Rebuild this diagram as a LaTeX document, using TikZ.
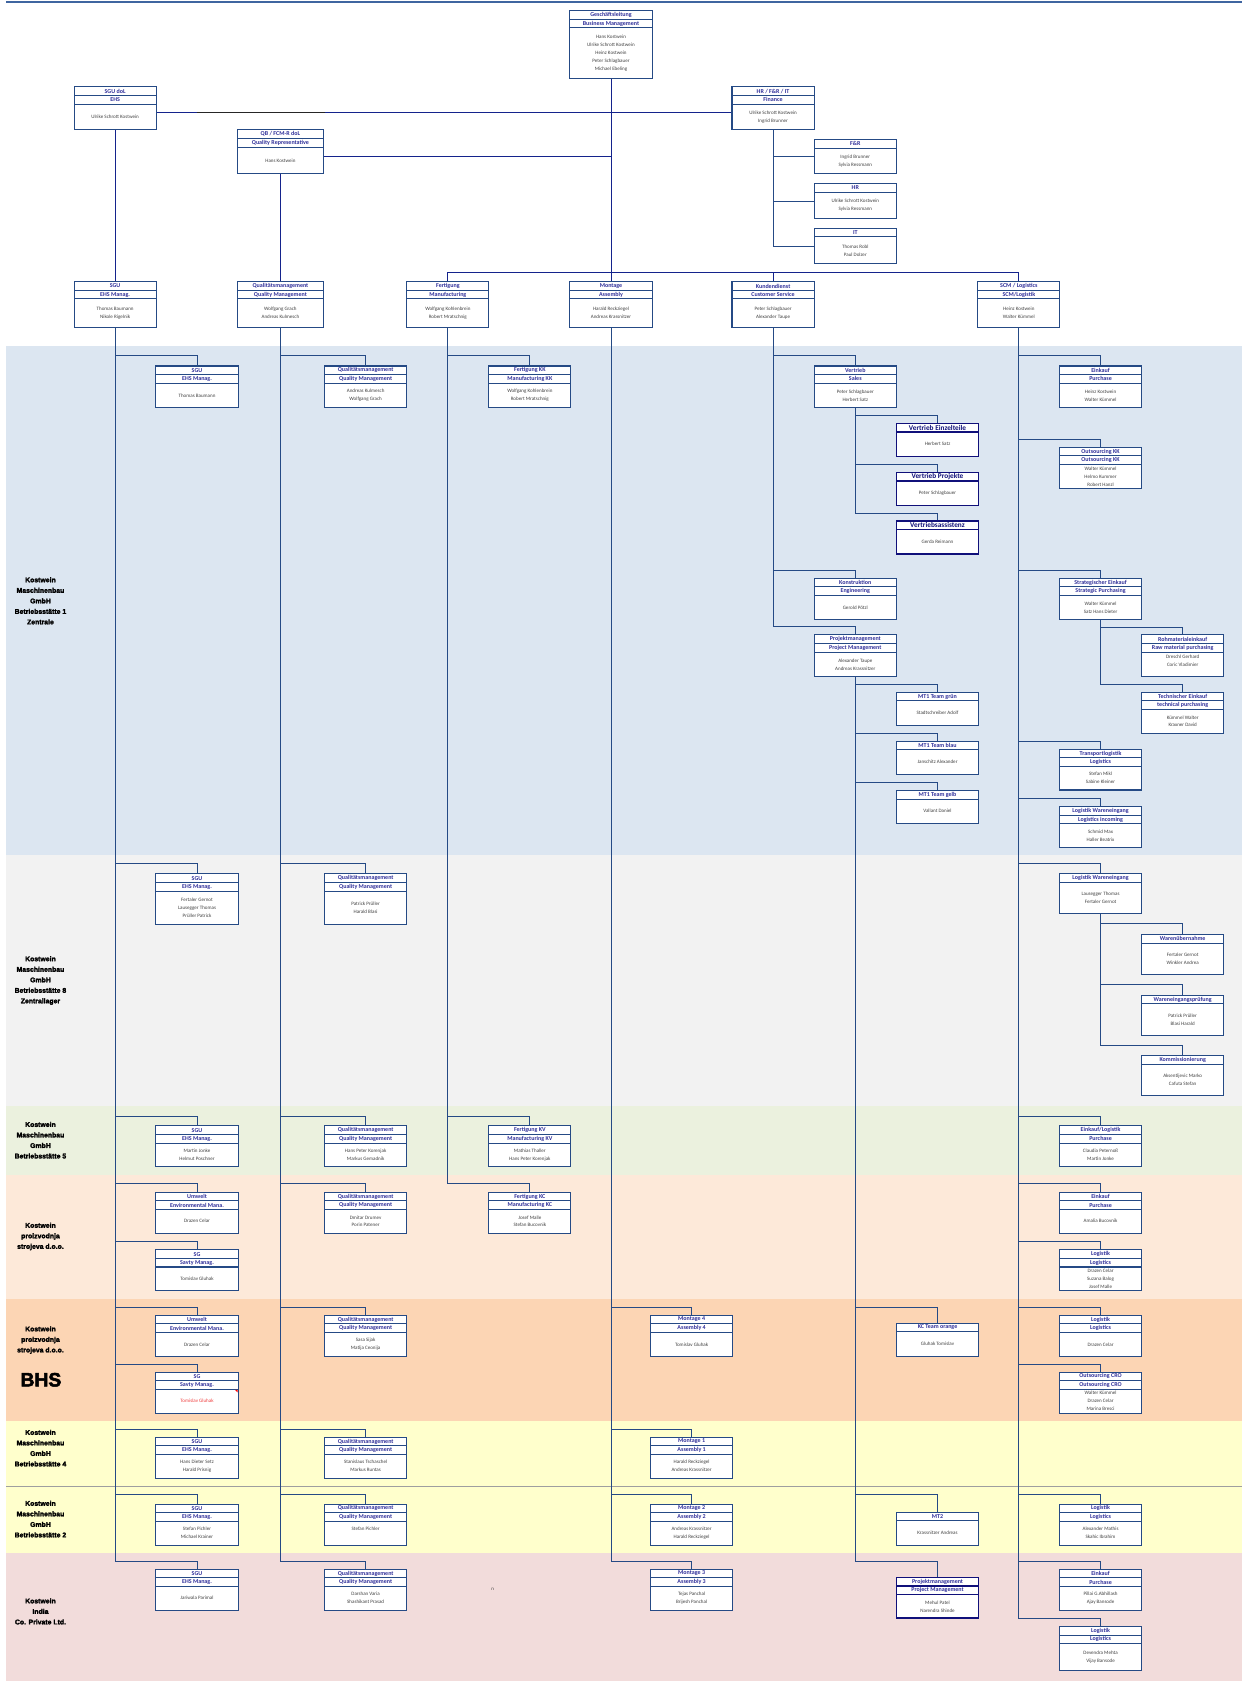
\documentclass[tikz,border=0pt]{standalone}
\usepackage{fontspec}
\setmainfont{Carlito}
\newfontfamily\lblfont{Liberation Sans Bold}[FakeBold=2.6]
\usetikzlibrary{calc}
\pgfdeclarelayer{bands}\pgfdeclarelayer{bg}
\pgfsetlayers{bands,bg,main}
\definecolor{bandblue}{HTML}{DCE6F1}
\definecolor{bandgrey}{HTML}{F2F2F2}
\definecolor{bandgreen}{HTML}{EBF1DE}
\definecolor{bandlorange}{HTML}{FDE9D9}
\definecolor{bandorange}{HTML}{FCD5B4}
\definecolor{bandyellow}{HTML}{FFFFCC}
\definecolor{bandpink}{HTML}{F2DCDB}
\definecolor{boxcol}{HTML}{254A85}
\definecolor{hdrcol}{HTML}{30309A}
\definecolor{namecol}{HTML}{404040}
\definecolor{navy}{HTML}{10107A}
\definecolor{topconn}{HTML}{14238C}
\definecolor{conncol}{HTML}{254A85}
\definecolor{toplinecol}{HTML}{3F65A0}
\definecolor{redname}{HTML}{F03C3C}
\tikzset{
 obox/.style={draw=boxcol, line width=1pt, fill=white, minimum width=76.5pt, inner sep=0pt, outer sep=0pt},
 wide/.style={minimum width=79.5pt},
 navybox/.style={draw=navy, line width=1.3pt},
 obline/.style={draw=boxcol, line width=1pt},
 hdr/.style={font=\fontsize{5.6}{6}\selectfont\bfseries, text=hdrcol, inner sep=0pt},
 hdrn/.style={font=\fontsize{6.8}{7}\selectfont\bfseries, text=navy, inner sep=0pt},
 nms/.style={font=\fontsize{4.7}{7.4}\selectfont, text=namecol, align=center, inner sep=0pt},
 conn/.style={draw=conncol, line width=0.8pt},
 tconn/.style={draw=topconn, line width=0.9pt},
 lbl/.style={font=\lblfont\fontsize{6.4}{9.8}\selectfont, align=center, inner sep=0pt},
}
% two-header box: style, name, x, y, height, header1, header2, names
\newcommand{\bxx}[8]{%
 \node[obox,#1,minimum height=#5pt,anchor=north west] (#2) at (#3,#4) {};
 \draw[obline,#1] ([yshift=-8pt]#2.north west) -- ([yshift=-8pt]#2.north east);
 \draw[obline,#1] ([yshift=-16pt]#2.north west) -- ([yshift=-16pt]#2.north east);
 \node[hdr] at ([yshift=-4pt]#2.north) {#6};
 \node[hdr] at ([yshift=-12pt]#2.north) {#7};
 \node[nms] at ($(#2.south)!0.5!([yshift=-16pt]#2.north)$) {#8};
}
% one-header box: style, name, x, y, height, header style, header, names
\newcommand{\bxa}[8]{%
 \node[obox,#1,minimum height=#5pt,anchor=north west] (#2) at (#3,#4) {};
 \draw[obline,#1] ([yshift=-8pt]#2.north west) -- ([yshift=-8pt]#2.north east);
 \node[#6] at ([yshift=-4pt]#2.north) {#7};
 \node[nms] at ($(#2.south)!0.5!([yshift=-8pt]#2.north)$) {#8};
}
\newcommand{\conn}[4][conn]{\draw[#1] (#2.north) -- ++(0,-#4) -| (#3.south);}
\begin{document}
\begin{tikzpicture}[x=1pt,y=-1pt]
\useasboundingbox (0,0) rectangle (1157,1568);
\begin{pgfonlayer}{bands}
\fill[bandblue] (6,322) rectangle (1157,796.5);
\fill[bandgrey] (6,796.5) rectangle (1157,1030.5);
\fill[bandgreen] (6,1030.5) rectangle (1157,1094.5);
\fill[bandlorange] (6,1094.5) rectangle (1157,1210);
\fill[bandorange] (6,1210) rectangle (1157,1323.7);
\fill[bandyellow] (6,1323.7) rectangle (1157,1446.4);
\fill[bandpink] (6,1446.4) rectangle (1157,1566.5);
\draw[gray!75, line width=0.8pt] (6,1384.9) -- (1157,1384.9);
\draw[toplinecol, line width=1.6pt] (6,2) -- (1157,2);
\end{pgfonlayer}

% ---------- top level ----------
\bxx{}{gl}{531}{10}{63}{Geschäftsleitung}{Business Management}{Hans Kostwein\\Ulrike Schrott Kostwein\\Heinz Kostwein\\Peter Schlagbauer\\Michael Ebeling}
\bxx{}{sgudol}{69}{81}{40}{SGU doL}{EHS}{Ulrike Schrott Kostwein}
\bxx{wide}{qb}{221.5}{121}{41}{QB / FCM-R doL}{Quality Representative}{Hans Kostwein}
\bxx{}{hrfin}{682}{81}{40}{HR / F\&R / IT}{Finance}{Ulrike Schrott Kostwein\\Ingrid Brunner}
\bxa{}{fr}{758.6}{130}{32}{hdr}{F\&R}{Ingrid Brunner\\Sylvia Ressmann}
\bxa{}{hr}{758.6}{171}{33}{hdr}{HR}{Ulrike Schrott Kostwein\\Sylvia Ressmann}
\bxa{}{it}{758.6}{212.7}{33}{hdr}{IT}{Thomas Robl\\Paul Dolzer}

% ---------- level 2 ----------
\bxx{}{sgu}{69}{262.5}{42.5}{SGU}{EHS Manag.}{Thomas Baumann\\Nikole Rigelnik}
\bxx{wide}{qm}{221.5}{262.5}{42.5}{Qualitätsmanagement}{Quality Management}{Wolfgang Grach\\Andreas Kulmesch}
\bxx{}{fert}{379}{262.5}{42.5}{Fertigung}{Manufacturing}{Wolfgang Kohlenbrein\\Robert Mratschnig}
\bxx{}{mont}{531}{262.5}{42.5}{Montage}{Assembly}{Harald Reckziegel\\Andreas Krassnitzer}
\bxx{}{kd}{682}{262.5}{42.5}{Kundendienst}{Customer Service}{Peter Schlagbauer\\Alexander Taupe}
\bxx{}{scm}{911}{262.5}{42.5}{SCM / Logistics}{SCM/Logistik}{Heinz Kostwein\\Walter Kümmel}

% ---------- Zentrale ----------
\bxx{}{z_sgu}{145.3}{341}{39}{SGU}{EHS Manag.}{Thomas Baumann}
\bxx{}{z_qm}{302.4}{341}{39}{Qualitätsmanagement}{Quality Management}{Andreas Kulmesch\\Wolfgang Grach}
\bxx{}{z_fkk}{455.4}{341}{39}{Fertigung KK}{Manufacturing KK}{Wolfgang Kohlenbrein\\Robert Mratschnig}
\bxx{}{z_sales}{758.6}{341}{39}{Vertrieb}{Sales}{Peter Schlagbauer\\Herbert Satz}
\bxx{}{z_ein}{987.1}{341}{39}{Einkauf}{Purchase}{Heinz Kostwein\\Walter Kümmel}
\bxa{navybox}{z_ve}{835.2}{394.4}{31}{hdrn}{Vertrieb Einzelteile}{Herbert Satz}
\bxa{navybox}{z_vp}{835.2}{440}{31}{hdrn}{Vertrieb Projekte}{Peter Schlagbauer}
\bxa{navybox}{z_va}{835.2}{485.3}{31}{hdrn}{Vertriebsassistenz}{Gerda Reimann}
\bxx{}{z_okk}{987.1}{416.7}{38.6}{Outsourcing  KK}{Outsourcing  KK}{Walter Kümmel\\Helmo Kummer\\Robert Hanzl}
\bxx{}{z_kon}{758.6}{538.8}{38.2}{Konstruktion}{Engineering}{Gerold Pötzl}
\bxx{}{z_se}{987.1}{538.8}{38.2}{Strategischer Einkauf}{Strategic Purchasing}{Walter Kümmel\\Satz Hans Dieter}
\bxx{}{z_pm}{758.6}{591.5}{39}{Projektmanagement}{Project Management}{Alexander Taupe\\Andreas Krassnitzer}
\bxx{}{z_rm}{1063.6}{591.5}{39}{Rohmaterialeinkauf}{Raw material purchasing}{Dreschl Gerhard\\Coric Vladimier\\\mbox{}}
\bxa{}{z_mtg}{835.2}{645}{31}{hdr}{MT1 Team grün}{Stadtschreiber Adolf}
\bxx{}{z_te}{1063.6}{645}{38}{Technischer Einkauf}{technical purchasing}{Kümmel Walter\\Kraxner David}
\bxa{}{z_mtb}{835.2}{690.6}{30.7}{hdr}{MT1 Team blau}{Janschitz Alexander}
\bxx{}{z_tl}{987.1}{698}{38}{Transportlogistik}{Logistics}{Stefan Mikl\\Sabine Kleiner}
\bxa{}{z_mty}{835.2}{736.5}{30.5}{hdr}{MT1 Team gelb}{Vallant Daniel}
\bxx{}{z_lw}{987.1}{751.4}{38}{Logistik Wareneingang}{Logistics incoming}{Schmid Max\\Haller Beatrix}

% ---------- Zentrallager ----------
\bxx{}{g_sgu}{145.3}{814.2}{47}{SGU}{EHS Manag.}{Fertaler Gernot\\Lausegger Thomas\\Prüller Patrick}
\bxx{}{g_qm}{302.4}{814.2}{47}{Qualitätsmanagement}{Quality Management}{Patrick Prüller\\Harald Blasi}
\bxa{}{g_lw}{987.1}{814.2}{37.2}{hdr}{Logistik Wareneingang}{Lausegger Thomas\\Fertaler Gernot}
\bxa{}{g_wu}{1063.6}{870.7}{37.5}{hdr}{Warenübernahme}{Fertaler Gernot\\Winkler Andrea}
\bxa{}{g_wp}{1063.6}{927.2}{37.2}{hdr}{Wareneingangsprüfung}{Patrick Prüller\\Blasi Harald}
\bxa{}{g_ko}{1063.6}{983.4}{37.6}{hdr}{Kommissionierung}{Aksentijevic Marko\\Cafuta Stefan}

% ---------- Betriebsstaette 5 ----------
\bxx{}{gr_sgu}{145.3}{1049}{37.8}{SGU}{EHS Manag.}{Martin Jonke\\Helmut Poschner}
\bxx{}{gr_qm}{302.4}{1049}{37.8}{Qualitätsmanagement}{Quality Management}{Hans Peter Korenjak\\Markus Gemadnik}
\bxx{}{gr_fkv}{455.4}{1049}{37.8}{Fertigung KV}{Manufacturing KV}{Mathias Thaller\\Hans Peter Korenjak}
\bxx{}{gr_el}{987.1}{1049}{37.8}{Einkauf/Logistik}{Purchase}{Claudia Peternoß\\Martin Jonke}

% ---------- proizvodnja ----------
\bxx{}{o_um}{145.3}{1110.7}{38.2}{Umwelt}{Environmental Mana.}{Drazen Celar}
\bxx{}{o_qm}{302.4}{1110.7}{38.2}{Qualitätsmanagement}{Quality Management}{Dmitar Drumev\\Porin Patener}
\bxx{}{o_fkc}{455.4}{1110.7}{38.2}{Fertigung KC}{Manufacturing KC}{Josef Malle\\Stefan Bucovnik}
\bxx{}{o_ein}{987.1}{1110.7}{38.2}{Einkauf}{Purchase}{Amalia Bucovnik}
\bxx{}{o_sg}{145.3}{1164.4}{38}{SG}{Savty Manag.}{Tomislav Gluhak}
\bxx{}{o_log}{987.1}{1164.4}{38}{Logistik}{Logistics}{Drazen Celar\\Suzana Balog\\Josef Malle}

% ---------- BHS ----------
\bxx{}{b_um}{145.3}{1225.3}{38.5}{Umwelt}{Environmental Mana.}{Drazen Celar}
\bxx{}{b_qm}{302.4}{1225.3}{38.5}{Qualitätsmanagement}{Quality Management}{Sasa Sijak\\Matija Ceonija}
\bxx{}{b_m4}{606.1}{1225.3}{38.5}{Montage 4}{Assembly 4}{Tomislav Gluhak}
\bxa{}{b_kc}{835.2}{1232.7}{31.1}{hdr}{KC Team orange}{Gluhak Tomislav}
\bxx{}{b_log}{987.1}{1225.3}{38.5}{Logistik}{Logistics}{Drazen Celar}
\bxx{}{b_sg}{145.3}{1278.3}{38.2}{SG}{Savty Manag.}{\textcolor{redname}{Tomislav Gluhak}}
\bxx{}{b_ocro}{987.1}{1278.3}{38.2}{Outsourcing  CRO}{Outsourcing  CRO}{Walter Kümmel\\Drazen Celar\\Marina Bresci}
\fill[red] ([xshift=-2.8pt,yshift=-16.6pt]b_sg.north east) -- ([xshift=-0.5pt,yshift=-16.6pt]b_sg.north east) -- ([xshift=-0.5pt,yshift=-19pt]b_sg.north east) -- cycle;

% ---------- Betriebsstaette 4 ----------
\bxx{}{y4_sgu}{145.3}{1338.9}{38.2}{SGU}{EHS Manag.}{Hans Dieter Setz\\Harald Prisnig}
\bxx{}{y4_qm}{302.4}{1338.9}{38.2}{Qualitätsmanagement}{Quality Management}{Stanislaus Tschaschel\\Markus Runtas}
\bxx{}{y4_m1}{606.1}{1338.9}{38.2}{Montage 1}{Assembly 1}{Harald Reckziegel\\Andreas Krassnitzer}

% ---------- Betriebsstaette 2 ----------
\bxx{}{y2_sgu}{145.3}{1401.3}{38.2}{SGU}{EHS Manag.}{Stefan Pichler\\Michael Krainer}
\bxx{}{y2_qm}{302.4}{1401.3}{38.2}{Qualitätsmanagement}{Quality Management}{Stefan Pichler\\\mbox{}}
\bxx{}{y2_m2}{606.1}{1401.3}{38.2}{Montage 2}{Assembly 2}{Andreas Krassnitzer\\Harald Reckziegel}
\bxa{}{y2_mt2}{835.2}{1408.8}{30.7}{hdr}{MT2}{Krassnitzer Andreas}
\bxx{}{y2_log}{987.1}{1401.3}{38.2}{Logistik}{Logistics}{Alexander Mathis\\Skahic Ibrahim}

% ---------- India ----------
\bxx{}{i_sgu}{145.3}{1461.9}{38.2}{SGU}{EHS Manag.}{Jariwala Parimal}
\bxx{}{i_qm}{302.4}{1461.9}{38.2}{Qualitätsmanagement}{Quality Management}{Darshan Varia\\Shashikant Prasad}
\bxx{}{i_m3}{606.1}{1461.9}{38.2}{Montage 3}{Assembly 3}{Tejas Panchal\\Brijesh Panchal}
\bxx{navybox}{i_pm}{835.2}{1469.7}{37.8}{Projektmanagement}{Project Management}{Mehul Patel\\Narendra Shinde}
\bxx{}{i_ein}{987.1}{1461.9}{38.2}{Einkauf}{Purchase}{Pillai G.Abhillash\\Ajay Bansode}
\bxx{}{i_log}{987.1}{1515.3}{41}{Logistik}{Logistics}{Devendra Mehta\\Vijay Bansode}
\node[font=\fontsize{4.6}{5}\selectfont, text=namecol, inner sep=0pt] (nmark) at (459,1481) {n};

% ---------- site labels ----------
\node[lbl] (lab1) at (37.7,559.8) {Kostwein\\Maschinenbau\\GmbH\\Betriebsstätte 1\\Zentrale};
\node[lbl] (lab8) at (37.7,913.5) {Kostwein\\Maschinenbau\\GmbH\\Betriebsstätte 8\\Zentrallager};
\node[lbl] (lab5) at (37.7,1062.3) {Kostwein\\Maschinenbau\\GmbH\\Betriebsstätte 5};
\node[lbl] (labp) at (37.7,1152) {Kostwein\\proizvodnja\\strojeva d.o.o.};
\node[lbl] (labb) at (37.7,1248.5) {Kostwein\\proizvodnja\\strojeva d.o.o.};
\node[font=\lblfont\fontsize{18}{18}\selectfont, inner sep=0pt] (bhs) at (38.1,1285.5) {BHS};
\node[lbl] (lab4) at (37.7,1349.2) {Kostwein\\Maschinenbau\\GmbH\\Betriebsstätte 4};
\node[lbl] (lab2) at (37.7,1415.3) {Kostwein\\Maschinenbau\\GmbH\\Betriebsstätte 2};
\node[lbl] (labi) at (37.7,1501.3) {Kostwein\\India\\Co. Private Ltd.};

% ---------- connectors ----------
\begin{pgfonlayer}{bg}
\coordinate (sdp) at ([yshift=-4pt]sgudol.east);
\draw[tconn] (sdp) -- (sdp -| hrfin.west);
\coordinate (gs1) at (183.7,105);
\coordinate (gs2) at (302.4,105);
\draw[black!85, line width=0.9pt] (gs1) -- (gs2);
\coordinate (qbp) at ([yshift=-4.5pt]qb.east);
\draw[tconn] (qbp) -- (qbp -| gl.south);
\draw[tconn] (gl.south) -- (mont.north);
\draw[tconn] (sgudol.south) -- (sgu.north);
\draw[tconn] (qb.south) -- (qm.north);
\conn[tconn]{fert}{gl}{8.5}
\conn[tconn]{kd}{gl}{8.5}
\conn[tconn]{scm}{gl}{8.5}
\draw[conn] (fr.west) -| (hrfin.south);
\draw[conn] (hr.west) -| (hrfin.south);
\draw[conn] (it.west) -| (hrfin.south);
% column A
\conn{z_sgu}{sgu}{9.4}
\conn{g_sgu}{sgu}{9.4}
\conn{gr_sgu}{sgu}{8.8}
\conn{o_um}{sgu}{8.4}
\conn{o_sg}{sgu}{7.7}
\conn{b_um}{sgu}{7.5}
\conn{b_sg}{sgu}{7.4}
\conn{y4_sgu}{sgu}{7.4}
\conn{y2_sgu}{sgu}{9}
\conn{i_sgu}{sgu}{7.4}
% column B
\conn{z_qm}{qm}{9.4}
\conn{g_qm}{qm}{9.4}
\conn{gr_qm}{qm}{8.8}
\conn{o_qm}{qm}{8.4}
\conn{b_qm}{qm}{7.5}
\conn{y4_qm}{qm}{7.4}
\conn{y2_qm}{qm}{9}
\conn{i_qm}{qm}{7.4}
% column C
\conn{z_fkk}{fert}{9.4}
\conn{gr_fkv}{fert}{8.8}
\conn{o_fkc}{fert}{8.4}
% column D
\conn{b_m4}{mont}{7.5}
\conn{y4_m1}{mont}{7.4}
\conn{y2_m2}{mont}{9}
\conn{i_m3}{mont}{7.4}
% column E
\conn{z_sales}{kd}{9.4}
\conn{z_kon}{kd}{7.8}
\conn{z_pm}{kd}{7.5}
\conn{z_ve}{z_sales}{7.5}
\conn{z_vp}{z_sales}{7.5}
\conn{z_va}{z_sales}{7.4}
\conn{z_mtg}{z_pm}{7.8}
\conn{z_mtb}{z_pm}{7.6}
\conn{z_mty}{z_pm}{7.7}
\conn{b_kc}{z_pm}{14.9}
\conn{y2_mt2}{z_pm}{16.5}
\conn{i_pm}{z_pm}{15.2}
% column F
\conn{z_ein}{scm}{9.4}
\conn{z_okk}{scm}{7.5}
\conn{z_se}{scm}{7.8}
\conn{z_tl}{scm}{7.4}
\conn{z_lw}{scm}{7.7}
\conn{g_lw}{scm}{9.4}
\conn{gr_el}{scm}{8.8}
\conn{o_ein}{scm}{8.4}
\conn{o_log}{scm}{7.7}
\conn{b_log}{scm}{7.5}
\conn{b_ocro}{scm}{7.4}
\conn{y2_log}{scm}{9}
\conn{i_ein}{scm}{7.4}
\conn{i_log}{scm}{7.8}
\conn{z_rm}{z_se}{7.1}
\conn{z_te}{z_se}{7.8}
\conn{g_wu}{g_lw}{10}
\conn{g_wp}{g_lw}{9.6}
\conn{g_ko}{g_lw}{9.7}
\end{pgfonlayer}
\end{tikzpicture}
\end{document}
